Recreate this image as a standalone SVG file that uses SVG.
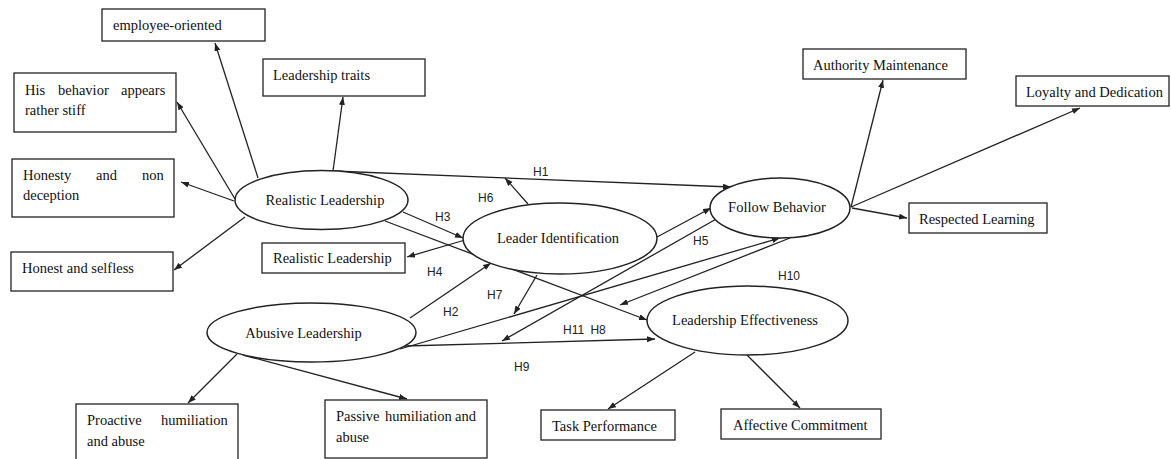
<svg xmlns="http://www.w3.org/2000/svg" width="1171" height="459" viewBox="0 0 1171 459">
<style>
.box{fill:#fff;stroke:#222;stroke-width:1.3}
.ell{fill:#fff;stroke:#222;stroke-width:1.5}
.t{font-family:"Liberation Serif","Times New Roman",serif;font-size:14.5px;fill:#111}
.c{text-anchor:middle}
.h{font-family:"Liberation Sans",Arial,sans-serif;font-size:12px;fill:#222}
.ln{stroke:#222;stroke-width:1.3;fill:none;marker-end:url(#ah)}
</style>
<defs>
<marker id="ah" markerUnits="userSpaceOnUse" markerWidth="9" markerHeight="7" refX="8" refY="3" orient="auto">
<path d="M0,0 L8,3 L0,6 z" fill="#222"/>
</marker>
</defs>
<rect width="1171" height="459" fill="#fff"/>
<g id="connectors">
<path class="ln" d="M258,178 L215,43"/>
<path class="ln" d="M235,199 L177,102"/>
<path class="ln" d="M234,201 L181,182"/>
<path class="ln" d="M245,217 L174,270"/>
<path class="ln" d="M333,171 L343,97"/>
<path class="ln" d="M333,171 L731,187"/>
<path class="ln" d="M403,212 L463,238"/>
<path class="ln" d="M385,221 L647,320"/>
<path class="ln" d="M465,240 L407,257"/>
<path class="ln" d="M528,204 L505,178"/>
<path class="ln" d="M657,237 L711,208"/>
<path class="ln" d="M410,318 L491,263"/>
<path class="ln" d="M537,275 L514,314"/>
<path class="ln" d="M400,349 L780,238"/>
<path class="ln" d="M718,218 L502,341"/>
<path class="ln" d="M790,238 L620,305"/>
<path class="ln" d="M405,346 L655,339"/>
<path class="ln" d="M237,354 L188,403"/>
<path class="ln" d="M243,355 L407,399"/>
<path class="ln" d="M695,352 L608,409"/>
<path class="ln" d="M747,355 L800,408"/>
<path class="ln" d="M851,207 L883,80"/>
<path class="ln" d="M851,207 L1080,108"/>
<path class="ln" d="M852,208 L907,218"/>
</g>
<g id="labels">
<text class="h" x="533" y="176">H1</text>
<text class="h" x="478" y="202">H6</text>
<text class="h" x="435" y="221">H3</text>
<text class="h" x="427" y="276">H4</text>
<text class="h" x="487" y="299">H7</text>
<text class="h" x="443" y="316">H2</text>
<text class="h" x="693" y="245">H5</text>
<text class="h" x="778" y="280">H10</text>
<text class="h" x="563" y="334" word-spacing="3">H11 H8</text>
<text class="h" x="514" y="371">H9</text>
</g>
<g id="employee-oriented"><rect class="box" x="102" y="9" width="163" height="32"/><text class="t" x="113" y="30">employee-oriented</text></g>
<g id="leadership-traits"><rect class="box" x="263" y="59" width="162" height="37"/><text class="t" x="273" y="80">Leadership traits</text></g>
<g id="his-behavior"><rect class="box" x="14" y="73" width="162" height="59"/><text class="t" y="95"><tspan x="25">His</tspan> <tspan x="58">behavior</tspan> <tspan x="121">appears</tspan></text><text class="t" x="25" y="115">rather stiff</text></g>
<g id="honesty"><rect class="box" x="12" y="159" width="162" height="58"/><text class="t" y="180"><tspan x="23">Honesty</tspan> <tspan x="96">and</tspan> <tspan x="142">non</tspan></text><text class="t" x="23" y="200">deception</text></g>
<g id="honest-selfless"><rect class="box" x="11" y="252" width="162" height="39"/><text class="t" x="22" y="273">Honest and selfless</text></g>
<g id="realistic-box"><rect class="box" x="262" y="243" width="143" height="30"/><text class="t" x="273" y="263">Realistic Leadership</text></g>
<g id="realistic-leadership"><ellipse class="ell" cx="321.5" cy="200" rx="86.5" ry="29.5"/><text class="t c" x="325" y="205">Realistic Leadership</text></g>
<g id="leader-identification"><ellipse class="ell" cx="560" cy="238.5" rx="97" ry="35.5"/><text class="t c" x="558" y="243">Leader Identification</text></g>
<g id="follow-behavior"><ellipse class="ell" cx="780" cy="208" rx="70" ry="30"/><text class="t c" x="777" y="212">Follow Behavior</text></g>
<g id="leadership-effectiveness"><ellipse class="ell" cx="747.5" cy="320.5" rx="100.5" ry="34.5"/><text class="t c" x="745" y="325">Leadership Effectiveness</text></g>
<g id="abusive-leadership"><ellipse class="ell" cx="311.5" cy="332.5" rx="104.5" ry="29.5"/><text class="t c" x="303.5" y="338">Abusive Leadership</text></g>
<g id="authority-maintenance"><rect class="box" x="803" y="49" width="163" height="30"/><text class="t" x="813" y="70">Authority Maintenance</text></g>
<g id="loyalty-dedication"><rect class="box" x="1016" y="76" width="153" height="30"/><text class="t" x="1026" y="97">Loyalty and Dedication</text></g>
<g id="respected-learning"><rect class="box" x="909" y="203" width="138" height="30"/><text class="t" x="919" y="224">Respected Learning</text></g>
<g id="proactive"><rect class="box" x="76" y="404" width="162" height="62"/><text class="t" y="425"><tspan x="87">Proactive</tspan> <tspan x="161">humiliation</tspan></text><text class="t" x="87" y="446">and abuse</text></g>
<g id="passive"><rect class="box" x="325" y="400" width="162" height="58"/><text class="t" y="421"><tspan x="336">Passive</tspan> <tspan x="385">humiliation</tspan> <tspan x="455">and</tspan></text><text class="t" x="336" y="442">abuse</text></g>
<g id="task-performance"><rect class="box" x="541" y="410" width="134" height="30"/><text class="t" x="552" y="431">Task Performance</text></g>
<g id="affective-commitment"><rect class="box" x="721" y="409" width="160" height="30"/><text class="t" x="733" y="430">Affective Commitment</text></g>
</svg>
